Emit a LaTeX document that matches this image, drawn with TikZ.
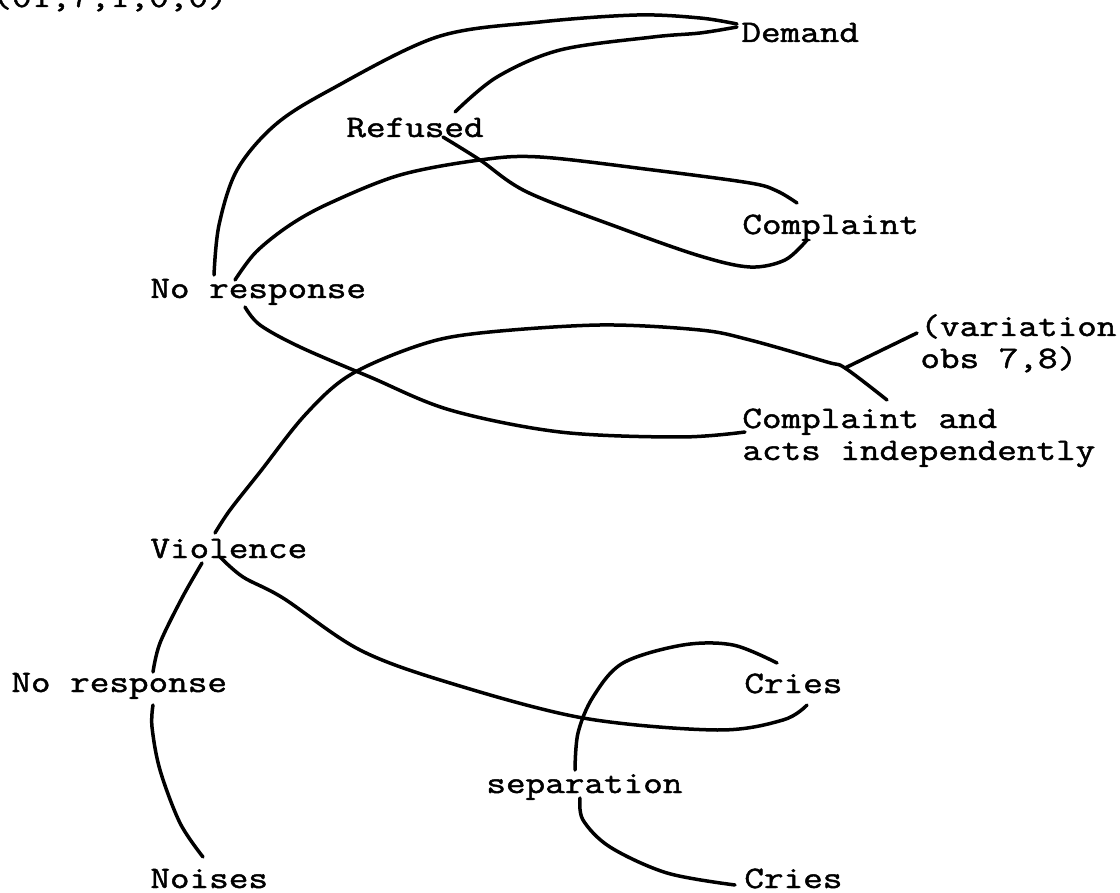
\documentclass[tikz,border=0pt]{standalone}
\usepackage{fontspec}
\newfontfamily\typew[FakeStretch=1.22,FakeBold=1.5]{Latin Modern Mono}
\usetikzlibrary{calc}
\tikzset{
  lbl/.style={anchor=base west, inner sep=0pt, font=\typew\fontsize{15.6}{16}\selectfont},
  link/.style={line width=1.75pt, line cap=round, line join=round},
}
\begin{document}
\begin{tikzpicture}[x=0.5pt,y=-0.5pt]
\useasboundingbox (0,0) rectangle (1120,893);
\clip (0,0) rectangle (1120,893);
% labels
\node[lbl] (code) at (-8,7) {(01,7,1,0,0)};
\node[lbl] (demand) at (741,42) {Demand};
\node[lbl] (refused) at (346,137) {Refused};
\node[lbl] (complaint) at (742,234) {Complaint};
\node[lbl] (nores1) at (150,298) {No response};
\node[lbl, align=left] (variation) at (920,368) {(variation\\[0pt]obs 7,8)};
\node[lbl, align=left] (cai) at (742,460) {Complaint and\\[0pt]acts independently};
\node[lbl] (violence) at (150,558) {Violence};
\node[lbl] (nores2) at (11,692) {No response};
\node[lbl] (cries1) at (744,693) {Cries};
\node[lbl] (separation) at (486,793) {separation};
\node[lbl] (noises) at (150,888) {Noises};
\node[lbl] (cries2) at (744,888) {Cries};
\coordinate (branch) at (845,368);
% connectors
\draw[link] plot[smooth, tension=0.55] coordinates {($(nores1.base west)+(64,-23)$) (219,225) (237,170) (275,125) (330,90) (437,37) (540,22) (637,15) (700,18) ($(demand.base west)+(-4,-18)$)};
\draw[link] plot[smooth, tension=0.55] coordinates {($(refused.base west)+(109,-25)$) (497,77) (560,50) (653,37) (700,33) ($(demand.base west)+(-4,-15)$)};
\draw[link] plot[smooth, tension=0.55] coordinates {($(refused.base west)+(97,0)$) (480,160) (527,192) (620,228) (700,256) (750,267) (785,260) ($(complaint.base west)+(65,6)$)};
\draw[link] plot[smooth, tension=0.55] coordinates {($(nores1.base west)+(85,-18)$) (256,252) (290,225) (330,203) (400,175) (480,160) (540,157) (653,170) (750,183) (777,191) ($(complaint.base west)+(55,-31)$)};
\draw[link] plot[smooth, tension=0.55] coordinates {($(nores1.base west)+(95,9)$) (260,325) (300,347) (370,377) (450,410) (560,432) (680,437) ($(cai.base west)+(3,-28)$)};
\draw[link] plot[smooth, tension=0.55] coordinates {($(violence.base west)+(65,-25)$) (230,510) (260,472) (305,415) (350,375) (420,345) (480,333) (600,325) (700,330) (750,340) (827,362) (branch) ($(cai.base west)+(145,-60)$)};
\draw[link] (branch) -- ($(variation.base west)+(-3,-35)$);
\draw[link] plot[smooth, tension=0.55] coordinates {($(violence.base west)+(70,-1)$) (243,577) (283,598) (360,650) (450,683) (583,718) (717,730) (783,720) ($(cries1.base west)+(63,12)$)};
\draw[link] plot[smooth, tension=0.55] coordinates {($(violence.base west)+(52,5)$) (182,598) (160,643) ($(nores2.base west)+(142,-20)$)};
\draw[link] plot[smooth, tension=0.55] coordinates {($(nores2.base west)+(142,13)$) (152,727) (160,770) (180,823) ($(noises.base west)+(53,-31)$)};
\draw[link] plot[smooth, tension=0.55] coordinates {($(separation.base west)+(89,-23)$) (578,733) (593,697) (623,663) (683,645) (733,645) ($(cries1.base west)+(33,-30)$)};
\draw[link] plot[smooth, tension=0.55] coordinates {($(separation.base west)+(94,5)$) (583,820) (610,847) (667,873) ($(cries2.base west)+(-9,-3)$)};
\end{tikzpicture}
\end{document}
